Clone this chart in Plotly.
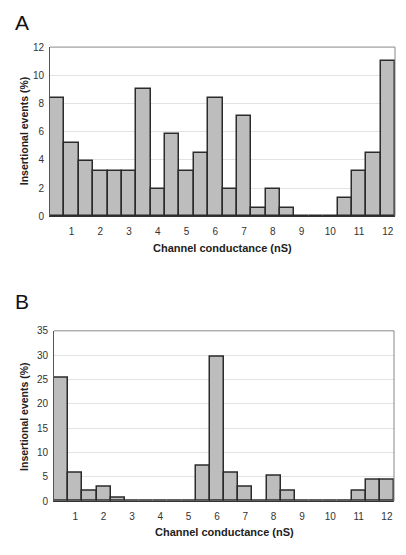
import plotly.graph_objects as go

# Data
x_pos = [0.5, 1.0, 1.5, 2.0, 2.5, 3.0, 3.5, 4.0, 4.5, 5.0, 5.5, 6.0,
         6.5, 7.0, 7.5, 8.0, 8.5, 9.0, 9.5, 10.0, 10.5, 11.0, 11.5, 12.0]
values_a = [8.4, 5.2, 3.9, 3.2, 3.2, 3.2, 9.0, 1.9, 5.8, 3.2, 4.5, 8.4,
            1.9, 7.1, 0.6, 1.9, 0.6, 0, 0, 0, 1.3, 3.2, 4.5, 11.0]
values_b = [25.3, 5.8, 2.2, 2.9, 0.7, 0, 0, 0, 0, 0, 7.2, 29.6,
            5.8, 2.9, 0, 5.1, 2.2, 0, 0, 0, 0, 2.2, 4.4, 4.4]
tick_vals = list(range(1, 13))
tick_text = [str(v) for v in tick_vals]
x_title = "Channel conductance (nS)"
y_title = "Insertional events (%)"

W, H = 406, 555
def px(x): return x / W
def py(y): return 1 - y / H

FONT = "Liberation Sans, Arial, sans-serif"
bar_style = dict(marker=dict(color="#bdbdbd", line=dict(color="#2b2b2b", width=1.5)),
                 width=0.5, showlegend=False, hoverinfo="x+y")

fig = go.Figure()
fig.add_trace(go.Bar(x=x_pos, y=values_a, xaxis="x", yaxis="y", **bar_style))
fig.add_trace(go.Bar(x=x_pos, y=values_b, xaxis="x2", yaxis="y2", **bar_style))

common_x = dict(range=[0.25, 12.25], tickmode="array", tickvals=tick_vals, ticktext=tick_text,
                showgrid=False, zeroline=False, showline=True, linecolor="#333333", linewidth=1.2,
                mirror=False, ticks="", ticklabelstandoff=6,
                tickfont=dict(family=FONT, size=10, color="#333333"), fixedrange=True)
common_y = dict(showgrid=True, gridcolor="#e2e2e2", gridwidth=1, zeroline=False,
                showline=True, linecolor="#555555", linewidth=1, ticks="", ticklabelstandoff=3,
                tickfont=dict(family=FONT, size=10, color="#333333"), fixedrange=True)

def ann(text, x, y, size, angle=0, color="#222222"):
    return dict(text=text, x=px(x), y=py(y), xref="paper", yref="paper", showarrow=False,
                xanchor="center", yanchor="middle", textangle=angle,
                font=dict(family=FONT, size=size, color=color))

fig.update_layout(
    width=W, height=H, margin=dict(l=0, r=0, t=0, b=0),
    paper_bgcolor="white", plot_bgcolor="white", bargap=0,
    xaxis=dict(domain=[px(50), px(395)], anchor="y", **common_x),
    yaxis=dict(domain=[py(215), py(42)], anchor="x", range=[0, 12], dtick=2, **common_y),
    xaxis2=dict(domain=[px(54), px(394)], anchor="y2", **common_x),
    yaxis2=dict(domain=[py(506), py(332)], anchor="x2", range=[0, 35], dtick=5, **common_y),
    shapes=[
        dict(type="line", xref="paper", yref="paper", x0=px(50), x1=px(395), y0=py(42), y1=py(42),
             line=dict(color="#888888", width=1)),
        dict(type="line", xref="paper", yref="paper", x0=px(395), x1=px(395), y0=py(42), y1=py(215),
             line=dict(color="#888888", width=1)),
        dict(type="line", xref="paper", yref="paper", x0=px(54), x1=px(394), y0=py(332), y1=py(332),
             line=dict(color="#888888", width=1)),
        dict(type="line", xref="paper", yref="paper", x0=px(394), x1=px(394), y0=py(332), y1=py(506),
             line=dict(color="#888888", width=1)),
    ],
    annotations=[
        ann("A", 22, 17, 21, color="#111111"),
        ann("B", 22, 302, 21, color="#111111"),
        ann("<b>" + x_title + "</b>", 222, 247, 11),
        ann("<b>" + x_title + "</b>", 224, 538, 11),
        ann("<b>" + y_title + "</b>", 24, 128, 10.5, angle=-90),
        ann("<b>" + y_title + "</b>", 24, 420, 10.5, angle=-90),
    ],
)

fig.write_html("out.html", config={"displayModeBar": False},
               post_script="document.body.style.margin='0px';")
